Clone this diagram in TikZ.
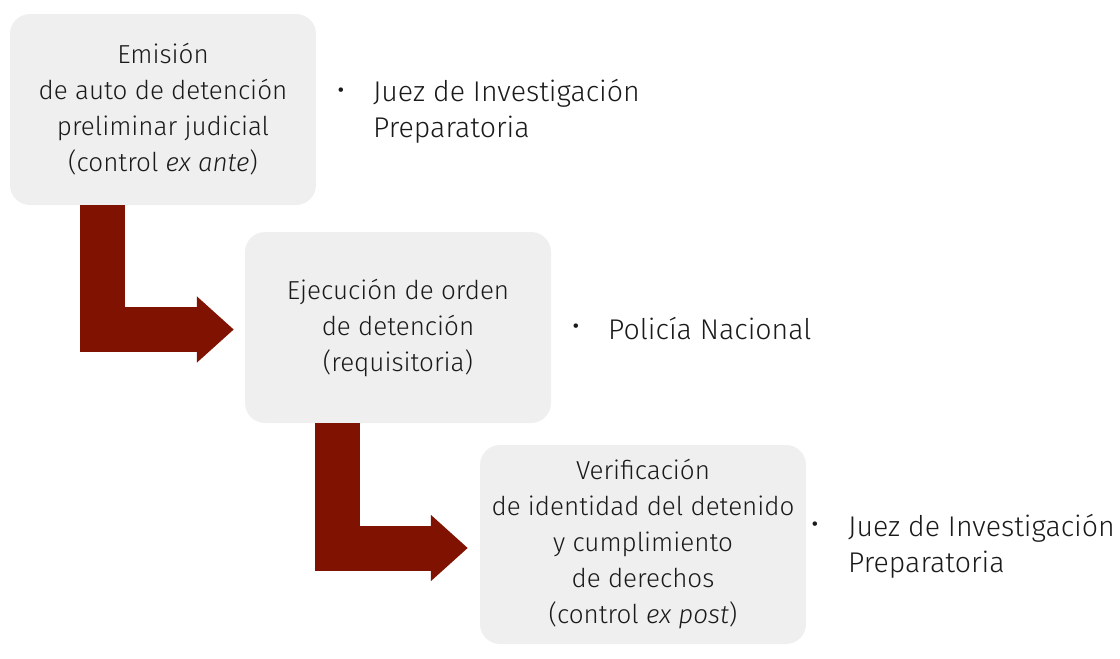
\documentclass[tikz,border=0pt]{standalone}
\usepackage{fontspec}
\setmainfont{Fira Sans}[UprightFont=* Light, ItalicFont=* Light Italic]
\usetikzlibrary{arrows.meta,calc}
\definecolor{boxgray}{HTML}{EFEFEF}
\definecolor{arrowred}{HTML}{7F1200}
\definecolor{txt}{HTML}{1A1A1A}
\begin{document}
\begin{tikzpicture}[x=1pt,y=-1pt,
  box/.style={fill=boxgray, draw=none, rounded corners=20pt, align=center,
    inner sep=0pt, text=txt, font=\fontsize{26}{36}\selectfont},
  bul/.style={inner sep=0pt, text=txt, font=\fontsize{30}{36}\selectfont},
  who/.style={anchor=west, inner sep=0pt, align=left, text=txt,
    font=\fontsize{28.5}{36}\selectfont},
  flow/.style={draw=arrowred, line width=45pt, line join=miter, line cap=butt,
    -{Triangle[length=37pt,width=64pt]}}]
\useasboundingbox (0,0) rectangle (1120,659);
\path (163,109.5) coordinate (c1) (398,327.5) coordinate (c2) (643,544.5) coordinate (c3);
\node[box, minimum width=306pt, minimum height=191pt] (b1) at (c1) {};
\node[box, minimum width=306pt, minimum height=191pt] (b2) at (c2) {};
\node[box, minimum width=326pt, minimum height=199pt] (b3) at (c3) {};
% arrows
\coordinate (a1s) at ($(b1.south west)+(92.5,0)$);
\coordinate (a1e) at ($(b2.west)+(-11,2)$);
\draw[flow] (a1s) |- (a1e);
\coordinate (a2s) at ($(b2.south west)+(92.5,0)$);
\coordinate (a2e) at ($(b3.west)+(-12,3.5)$);
\draw[flow] (a2s) |- (a2e);
% texts
\node[box, fill=none] (t1) at (c1) {Emisión\\de auto de detención\\preliminar judicial\\(control \textit{ex ante})};
\node[box, fill=none] (t2) at (c2) {Ejecución de orden\\de detención\\(requisitoria)};
\node[box, fill=none] (t3) at (c3) {Verificación\\de identidad del detenido\\y cumplimiento\\de derechos\\(control \textit{ex post})};
% bullets
\node[bul] (d1) at (341,94) {•};
\node[who] (w1) at (373,111) {Juez de Investigación\\Preparatoria};
\node[bul] (d2) at (576,330) {•};
\node[who] (w2) at (608,329) {Policía Nacional};
\node[bul] (d3) at (815,528) {•};
\node[who] (w3) at (848,546) {Juez de Investigación\\Preparatoria};
\end{tikzpicture}
\end{document}
